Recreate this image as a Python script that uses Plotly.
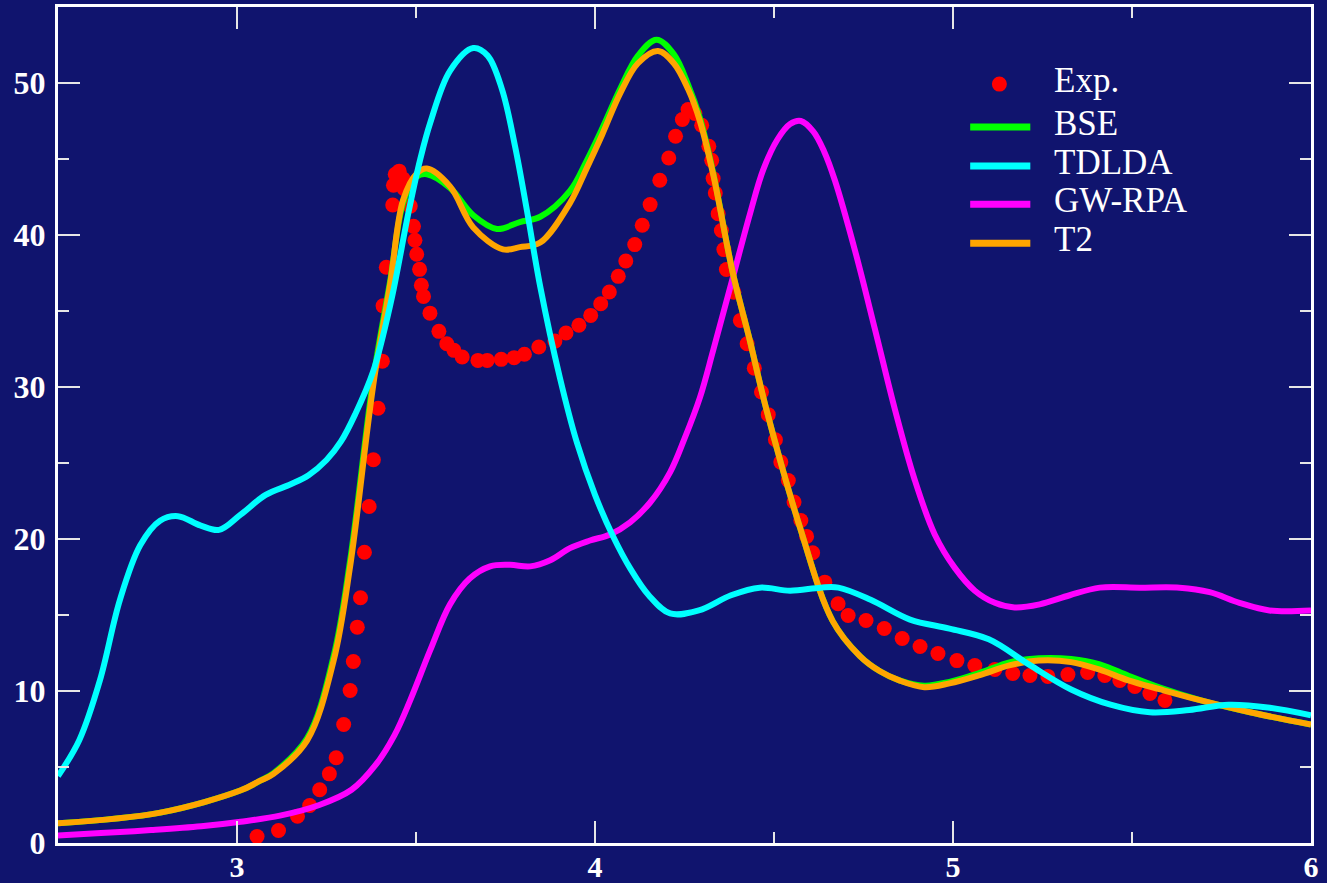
import plotly.graph_objects as go

# ---------------- data ----------------
exp_x = [3.056, 3.116, 3.169, 3.203, 3.231, 3.258, 3.277, 3.298, 3.316, 3.325, 3.336, 3.345,
         3.356, 3.369, 3.381, 3.394, 3.406, 3.408, 3.417, 3.435, 3.437, 3.442, 3.453, 3.464,
         3.467, 3.484, 3.493, 3.497, 3.502, 3.510, 3.515, 3.521, 3.539, 3.564, 3.586, 3.606,
         3.629, 3.673, 3.699, 3.738, 3.774, 3.803, 3.843, 3.888, 3.919, 3.955, 3.988, 4.016,
         4.040, 4.065, 4.086, 4.111, 4.132, 4.154, 4.181, 4.206, 4.225, 4.244, 4.260, 4.279,
         4.298, 4.318, 4.326, 4.330, 4.336, 4.344, 4.353, 4.360, 4.367, 4.388, 4.406, 4.425,
         4.445, 4.465, 4.484, 4.504, 4.519, 4.540, 4.556, 4.575, 4.591, 4.608, 4.642, 4.679,
         4.707, 4.757, 4.808, 4.858, 4.908, 4.958, 5.011, 5.061, 5.117, 5.167, 5.215, 5.265,
         5.321, 5.376, 5.424, 5.466, 5.508, 5.550, 5.592]
exp_y = [0.43, 0.82, 1.76, 2.47, 3.50, 4.55, 5.61, 7.80, 10.03, 11.94, 14.2, 16.13,
         19.13, 22.14, 25.21, 28.6, 31.7, 35.34, 37.88, 41.97, 43.27, 43.99, 44.2, 43.7,
         43.05, 41.9, 40.57, 39.65, 38.73, 37.74, 36.69, 35.96, 34.86, 33.66, 32.85, 32.41,
         31.97, 31.75, 31.75, 31.82, 31.93, 32.15, 32.63, 33.02, 33.55, 34.06, 34.71, 35.48,
         36.25, 37.28, 38.29, 39.37, 40.64, 42.0, 43.6, 45.07, 46.5, 47.6, 48.25, 47.99,
         47.22, 45.84, 44.91, 43.71, 42.76, 41.4, 40.3, 39.04, 37.73, 36.23, 34.38, 32.85,
         31.24, 29.67, 28.18, 26.53, 25.06, 23.85, 22.43, 21.22, 20.17, 19.1, 17.16, 15.74,
         14.97, 14.64, 14.11, 13.45, 12.93, 12.47, 12.0, 11.68, 11.41, 11.15, 11.02, 10.96,
         11.08, 11.22, 11.02, 10.69, 10.3, 9.84, 9.38]

bse_x = [2.50, 2.786, 3.009, 3.065, 3.102, 3.196, 3.27, 3.316, 3.381, 3.428, 3.464, 3.50,
         3.53, 3.595, 3.66, 3.726, 3.79, 3.847, 3.93, 3.977, 4.02, 4.07, 4.12, 4.172,
         4.22, 4.26, 4.293, 4.33, 4.385, 4.43, 4.479, 4.572, 4.664, 4.74, 4.796, 4.85,
         4.92, 4.99, 5.075, 5.16, 5.24, 5.33, 5.41, 5.49, 5.58, 5.69, 5.83, 6.0]
bse_y = [1.3, 2.0, 3.45, 4.1, 4.6, 6.9, 12.3, 18.6, 30.6, 37.0, 42.1, 43.8,
         44.0, 43.1, 41.3, 40.4, 40.85, 41.2, 42.9, 44.9, 47.0, 49.6, 51.8, 52.85,
         51.9, 49.9, 47.7, 44.1, 37.5, 33.3, 28.5, 20.8, 14.6, 12.3, 11.3, 10.7,
         10.35, 10.6, 11.2, 11.9, 12.15, 12.1, 11.75, 11.0, 10.2, 9.4, 8.6, 7.8]

tdlda_x = [2.50, 2.56, 2.617, 2.673, 2.73, 2.785, 2.835, 2.897, 2.95, 3.01, 3.08, 3.15,
           3.20, 3.25, 3.29, 3.33, 3.38, 3.43, 3.48, 3.512, 3.54, 3.595, 3.66, 3.70,
           3.74, 3.777, 3.81, 3.847, 3.902, 3.95, 4.0, 4.05, 4.10, 4.15, 4.21, 4.29,
           4.38, 4.46, 4.545, 4.63, 4.68, 4.77, 4.88, 4.99, 5.10, 5.215, 5.33, 5.44,
           5.55, 5.66, 5.77, 5.885, 6.0]
tdlda_y = [4.4, 6.8, 10.7, 16.0, 19.6, 21.2, 21.5, 20.9, 20.6, 21.6, 22.9, 23.6,
           24.2, 25.2, 26.4, 28.2, 31.0, 35.6, 41.6, 45.0, 47.4, 50.8, 52.3, 51.8,
           49.6, 45.8, 41.6, 36.6, 30.6, 26.3, 22.9, 20.2, 18.0, 16.3, 15.1, 15.3,
           16.3, 16.8, 16.6, 16.8, 16.8, 16.0, 14.7, 14.1, 13.4, 11.7, 10.1, 9.1,
           8.6, 8.75, 9.1, 8.9, 8.4]

gw_x = [2.50, 2.62, 2.76, 2.90, 3.01, 3.12, 3.23, 3.32, 3.386, 3.44, 3.484, 3.54,
        3.595, 3.65, 3.707, 3.763, 3.819, 3.875, 3.93, 3.986, 4.042, 4.098, 4.154, 4.21,
        4.25, 4.293, 4.33, 4.377, 4.433, 4.47, 4.51, 4.545, 4.575, 4.61, 4.64, 4.67,
        4.726, 4.782, 4.838, 4.893, 4.949, 5.005, 5.061, 5.117, 5.172, 5.242, 5.326, 5.41,
        5.521, 5.633, 5.717, 5.80, 5.884, 6.0]
gw_y = [0.5, 0.65, 0.85, 1.1, 1.4, 1.8, 2.5, 3.5, 5.1, 7.1, 9.4, 12.7,
        15.7, 17.4, 18.2, 18.3, 18.2, 18.6, 19.4, 19.9, 20.3, 21.1, 22.4, 24.4,
        26.6, 29.3, 32.4, 36.5, 41.4, 44.3, 46.3, 47.3, 47.5, 46.8, 45.5, 43.6,
        39.0, 33.8, 28.5, 23.9, 20.3, 18.1, 16.6, 15.8, 15.5, 15.7, 16.3, 16.8,
        16.8, 16.8, 16.5, 15.8, 15.3, 15.3]

t2_x = [2.50, 2.786, 3.009, 3.065, 3.102, 3.196, 3.27, 3.316, 3.381, 3.428, 3.464, 3.5025,
        3.53, 3.595, 3.66, 3.743, 3.79, 3.847, 3.93, 3.977, 4.02, 4.07, 4.12, 4.176,
        4.22, 4.26, 4.293, 4.33, 4.385, 4.43, 4.479, 4.572, 4.664, 4.74, 4.796, 4.85,
        4.92, 4.99, 5.075, 5.16, 5.24, 5.33, 5.41, 5.49, 5.58, 5.69, 5.83, 6.0]
t2_y = [1.3, 2.0, 3.45, 4.1, 4.55, 6.75, 12.0, 18.2, 30.2, 36.8, 42.3, 44.05,
        44.37, 43.2, 40.5, 39.06, 39.2, 39.5, 42.1, 44.4, 46.6, 49.3, 51.3, 52.1,
        51.3, 49.6, 47.5, 44.0, 37.5, 33.3, 28.5, 20.8, 14.6, 12.3, 11.3, 10.7,
        10.25, 10.5, 11.05, 11.7, 12.0, 11.9, 11.4, 10.7, 10.1, 9.4, 8.6, 7.8]

legend_names = ["Exp.", "BSE", "TDLDA", "GW-RPA", "T2"]
legend_colors = ["#FF0000", "#00FF00", "#00FFFF", "#FF00FF", "#FFA500"]

x_tickvals = [3, 4, 5, 6]
y_tickvals = [0, 10, 20, 30, 40, 50]

# ---------------- figure ----------------
BG = "#10146E"
fig = go.Figure()

fig.add_trace(go.Scatter(x=exp_x, y=exp_y, mode="markers", name="Exp.",
                         marker=dict(color="#FF0000", size=15, line=dict(width=0))))
lw = 6
fig.add_trace(go.Scatter(x=gw_x, y=gw_y, mode="lines", name="GW-RPA",
                         line=dict(color="#FF00FF", width=lw, shape="spline", smoothing=1)))
fig.add_trace(go.Scatter(x=bse_x, y=bse_y, mode="lines", name="BSE",
                         line=dict(color="#00FF00", width=lw, shape="spline", smoothing=1)))
fig.add_trace(go.Scatter(x=t2_x, y=t2_y, mode="lines", name="T2",
                         line=dict(color="#FFA500", width=lw, shape="spline", smoothing=1)))
fig.add_trace(go.Scatter(x=tdlda_x, y=tdlda_y, mode="lines", name="TDLDA",
                         line=dict(color="#00FFFF", width=lw, shape="spline", smoothing=1)))

# manual legend (paper coordinates)
row_y = [0.9078, 0.8564, 0.8097, 0.7642, 0.7175]
shapes = []
annotations = []
for i, (nm, col) in enumerate(zip(legend_names, legend_colors)):
    if i == 0:
        shapes.append(dict(type="circle", xref="paper", yref="paper",
                           xsizemode="pixel", ysizemode="pixel",
                           xanchor=0.7513, yanchor=row_y[i],
                           x0=-7.5, x1=7.5, y0=-7.5, y1=7.5,
                           fillcolor=col, line=dict(width=0)))
    else:
        shapes.append(dict(type="line", xref="paper", yref="paper",
                           x0=0.728, x1=0.776, y0=row_y[i], y1=row_y[i],
                           line=dict(color=col, width=7)))
    annotations.append(dict(text=nm, xref="paper", yref="paper", x=0.7942,
                            y=row_y[i] + 0.004, xanchor="left", yanchor="middle",
                            showarrow=False, borderpad=0,
                            font=dict(family="Liberation Serif", size=35, color="white")))

axis_common = dict(
    showgrid=False, zeroline=False, automargin=False,
    showline=True, linecolor="white", linewidth=3, mirror="allticks",
    ticks="inside", ticklen=22, tickwidth=2, tickcolor="#E6E6E6",
)

fig.update_layout(
    width=1327, height=883,
    margin=dict(l=58, r=16, t=7, b=40, pad=0),
    paper_bgcolor=BG, plot_bgcolor=BG,
    showlegend=False,
    shapes=shapes, annotations=annotations,
    xaxis=dict(range=[2.5, 6], tickvals=x_tickvals, ticklabelstandoff=-5,
               tickfont=dict(family="Liberation Serif", size=30, color="white", weight="bold"),
               minor=dict(ticks="inside", ticklen=11, tickwidth=2, tickcolor="#E6E6E6",
                          dtick=0.5, tick0=2.5),
               **axis_common),
    yaxis=dict(range=[0, 55], tickvals=y_tickvals, ticklabelstandoff=3,
               tickfont=dict(family="Liberation Serif", size=32, color="white", weight="bold"),
               minor=dict(ticks="inside", ticklen=11, tickwidth=2, tickcolor="#E6E6E6",
                          dtick=5, tick0=0),
               **axis_common),
)

fig.write_html("out.html")
